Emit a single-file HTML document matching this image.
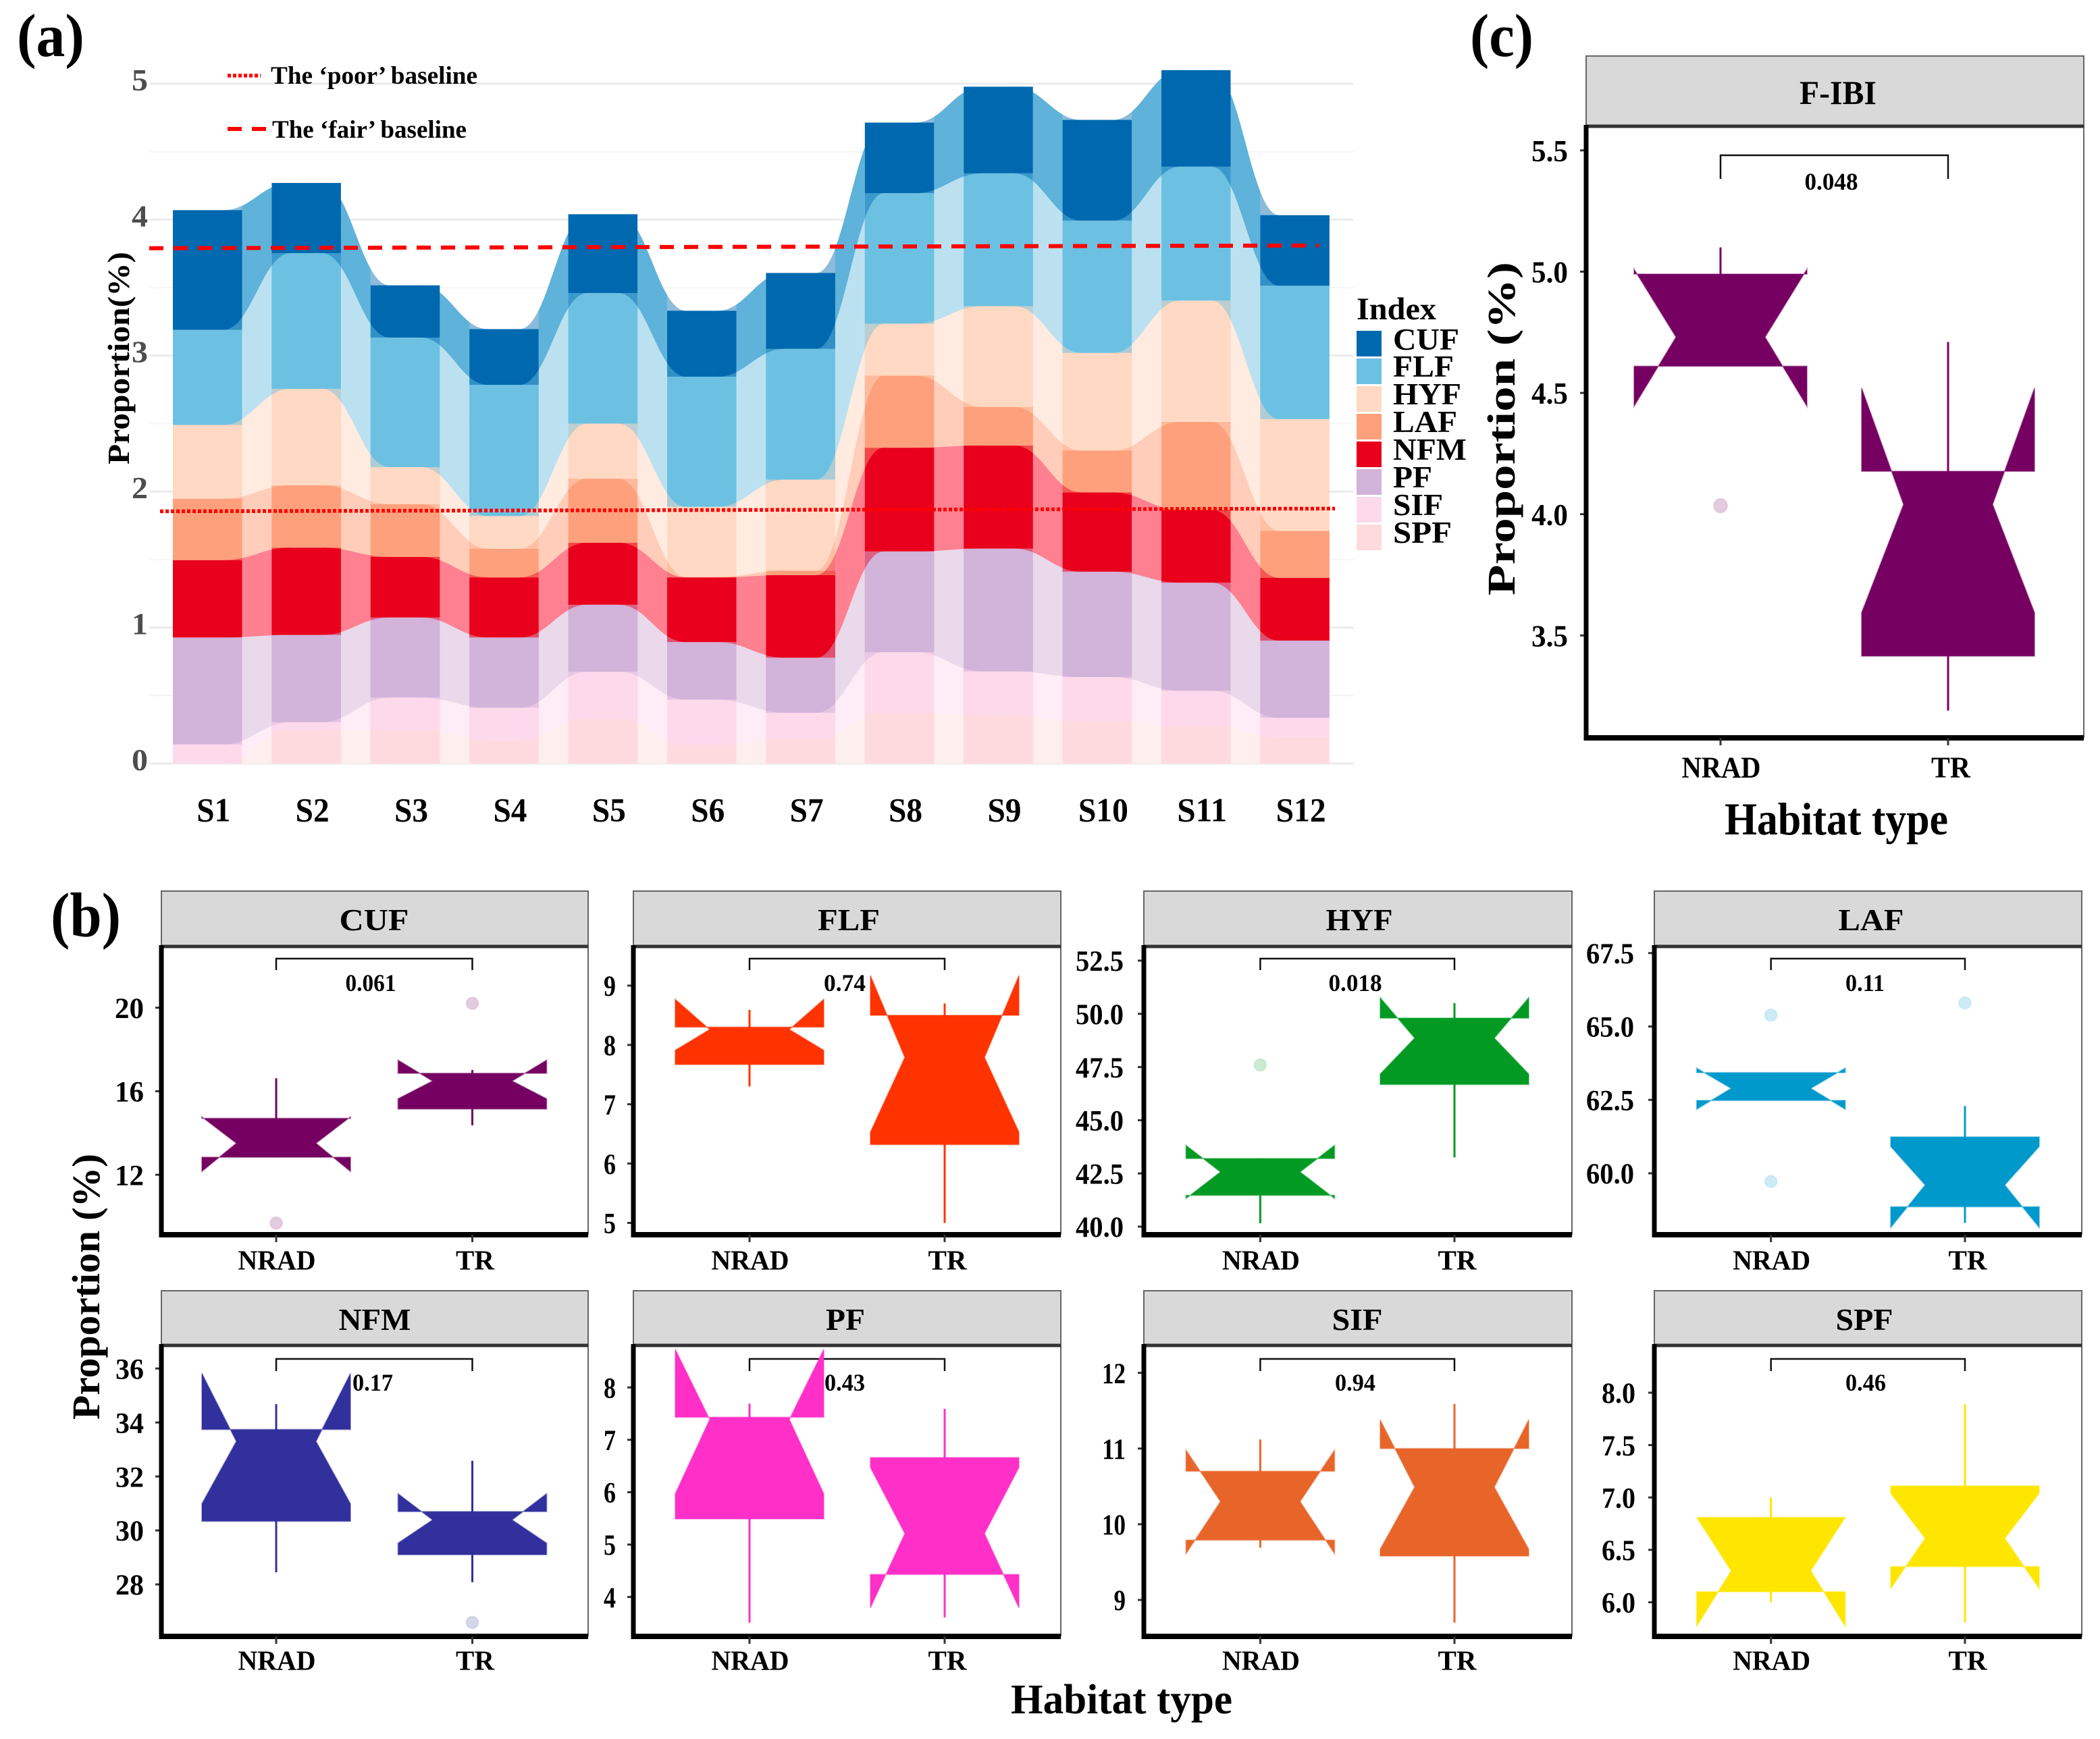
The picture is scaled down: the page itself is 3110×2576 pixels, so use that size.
<!DOCTYPE html>
<html lang="en">
<head>
<meta charset="utf-8">
<title>Fish index proportions by site and habitat type</title>
<style>
html,body{margin:0;padding:0;background:#fff;width:3110px;height:2576px;overflow:hidden}
svg{display:block}
text{font-family:"Liberation Serif",serif;font-weight:bold;fill:#000}
</style>
</head>
<body>
<svg id="figure" xmlns="http://www.w3.org/2000/svg" width="3110" height="2576" viewBox="0 0 3110 2576">
  <rect x="0" y="0" width="3110" height="2576" fill="#fff"/>

  <text x="25" y="83" font-size="90" textLength="100" lengthAdjust="spacingAndGlyphs">(a)</text>
  <text x="75" y="1387" font-size="93" textLength="104" lengthAdjust="spacingAndGlyphs">(b)</text>
  <text x="2177" y="83" font-size="90" textLength="94" lengthAdjust="spacingAndGlyphs">(c)</text>

  <g id="stack-grid"></g>
  <g id="stack-flows"></g>
  <g id="stack-bars"></g>
  <g id="stack-slivers"></g>
  <g id="stack-axes"></g>
  <g id="stack-baselines"></g>

  <text transform="translate(191,688) rotate(-90)" x="0" y="0" font-size="46" textLength="315" lengthAdjust="spacingAndGlyphs">Proportion(%)</text>

  <g>
    <line x1="337" y1="112" x2="386" y2="112" stroke="#f00" stroke-width="5.5" stroke-dasharray="5 3"/>
    <text x="401" y="124" font-size="37" textLength="306" lengthAdjust="spacingAndGlyphs">The ‘poor’ baseline</text>
    <line x1="337" y1="191" x2="396" y2="191" stroke="#f00" stroke-width="6" stroke-dasharray="21 15"/>
    <text x="403" y="204" font-size="37" textLength="288" lengthAdjust="spacingAndGlyphs">The ‘fair’ baseline</text>
  </g>

  <g>
    <text x="2009" y="473" font-size="47" textLength="118" lengthAdjust="spacingAndGlyphs">Index</text>
    <rect x="2009" y="490" width="37" height="38" fill="#0069b0"/>
    <text x="2063" y="518" font-size="46" textLength="98" lengthAdjust="spacingAndGlyphs">CUF</text>
    <rect x="2009" y="531" width="37" height="38" fill="#6cc1e2"/>
    <text x="2063" y="558" font-size="46" textLength="90" lengthAdjust="spacingAndGlyphs">FLF</text>
    <rect x="2009" y="572" width="37" height="38" fill="#ffd9c3"/>
    <text x="2063" y="599" font-size="46" textLength="101" lengthAdjust="spacingAndGlyphs">HYF</text>
    <rect x="2009" y="613" width="37" height="38" fill="#ffa07c"/>
    <text x="2063" y="640" font-size="46" textLength="95" lengthAdjust="spacingAndGlyphs">LAF</text>
    <rect x="2009" y="654" width="37" height="38" fill="#e9001d"/>
    <text x="2063" y="681" font-size="46" textLength="109" lengthAdjust="spacingAndGlyphs">NFM</text>
    <rect x="2009" y="695" width="37" height="38" fill="#d2b3da"/>
    <text x="2063" y="722" font-size="46" textLength="58" lengthAdjust="spacingAndGlyphs">PF</text>
    <rect x="2009" y="736" width="37" height="38" fill="#fdd9ec"/>
    <text x="2063" y="763" font-size="46" textLength="74" lengthAdjust="spacingAndGlyphs">SIF</text>
    <rect x="2009" y="777" width="37" height="38" fill="#fedadf"/>
    <text x="2063" y="804" font-size="46" textLength="87" lengthAdjust="spacingAndGlyphs">SPF</text>
  </g>

  <g id="panels"></g>

  <g text-anchor="middle">
    <text x="2722" y="154" font-size="50" textLength="114" lengthAdjust="spacingAndGlyphs">F-IBI</text>
    <text x="554" y="1378" font-size="46" textLength="103" lengthAdjust="spacingAndGlyphs">CUF</text>
    <text x="1257" y="1378" font-size="46" textLength="92" lengthAdjust="spacingAndGlyphs">FLF</text>
    <text x="2013" y="1378" font-size="46" textLength="99" lengthAdjust="spacingAndGlyphs">HYF</text>
    <text x="2771" y="1378" font-size="46" textLength="97" lengthAdjust="spacingAndGlyphs">LAF</text>
    <text x="555" y="1970" font-size="46" textLength="107" lengthAdjust="spacingAndGlyphs">NFM</text>
    <text x="1252" y="1970" font-size="46" textLength="58" lengthAdjust="spacingAndGlyphs">PF</text>
    <text x="2010" y="1970" font-size="46" textLength="75" lengthAdjust="spacingAndGlyphs">SIF</text>
    <text x="2761" y="1970" font-size="46" textLength="85" lengthAdjust="spacingAndGlyphs">SPF</text>
  </g>

  <text transform="translate(147,2103) rotate(-90)" x="0" y="0" font-size="58" textLength="394" lengthAdjust="spacingAndGlyphs">Proportion (%)</text>
  <text x="1497" y="2538" font-size="62" textLength="328" lengthAdjust="spacingAndGlyphs">Habitat type</text>
  <text transform="translate(2243,882) rotate(-90)" x="0" y="0" font-size="58" textLength="494" lengthAdjust="spacingAndGlyphs">Proportion (%)</text>
  <text x="2554" y="1236" font-size="68" textLength="331" lengthAdjust="spacingAndGlyphs">Habitat type</text>
</svg>

<script>
// ---- Panel (a) data: stacked layer heights per site, bottom layer first
const sites = ['S1','S2','S3','S4','S5','S6','S7','S8','S9','S10','S11','S12'];
const spfValues = [0,0.245,0.245,0.17,0.328,0.14,0.18,0.373,0.353,0.312,0.276,0.195];
const sifValues = [0.14,0.059,0.24,0.24,0.347,0.33,0.193,0.446,0.324,0.324,0.259,0.141];
const pfValues  = [0.787,0.642,0.589,0.517,0.493,0.423,0.405,0.741,0.904,0.775,0.795,0.568];
const nfmValues = [0.569,0.642,0.446,0.442,0.456,0.476,0.608,0.763,0.758,0.583,0.535,0.462];
const lafValues = [0.452,0.458,0.388,0.211,0.471,0.003,0.033,0.531,0.284,0.308,0.648,0.345];
const hyfValues = [0.542,0.71,0.272,0.24,0.405,0.516,0.669,0.381,0.741,0.718,0.892,0.822];
const flfValues = [0.70,0.998,0.953,0.965,0.96,0.957,0.962,0.96,0.977,0.973,0.985,0.981];
const cufValues = [0.88,0.516,0.384,0.41,0.58,0.485,0.558,0.519,0.637,0.741,0.71,0.519];
const stackTicks = ['0','1','2','3','4','5'];
const poorBaseline = [1.855,1.875];
const fairBaseline = [3.79,3.81];

// ---- Box data order: q1, notchLower, median, notchUpper, q3, whiskerLow, whiskerHigh
const boxCategories = ['NRAD','TR'];
const fibiTicks = ['3.5','4.0','4.5','5.0','5.5'];
const fibiNrad = [4.61,4.445,4.73,5.01,4.99,4.61,5.1];
const fibiTr = [3.415,3.594,4.04,4.52,4.177,3.19,4.71];
const fibiNradOutliers = [4.035];
const fibiTrOutliers = [];
const fibiP = '0.048';

const cufTicks = ['12','16','20'];
const cufNrad = [12.84,12.16,13.51,14.77,14.7,12.84,16.62];
const cufTr = [15.15,15.64,16.49,17.49,16.86,14.37,17.02];
const cufNradOutliers = [9.69];
const cufTrOutliers = [20.21];
const cufP = '0.061';

const flfTicks = ['5','6','7','8','9'];
const flfNrad = [7.67,7.91,8.26,8.77,8.3,7.3,8.59];
const flfTr = [6.32,6.53,7.79,9.17,8.5,5.0,8.7];
const flfNradOutliers = [];
const flfTrOutliers = [];
const flfP = '0.74';

const hyfTicks = ['40.0','42.5','45.0','47.5','50.0','52.5'];
const hyfNrad = [41.47,41.32,42.57,43.82,43.2,40.16,43.2];
const hyfTr = [46.68,47.17,48.86,50.76,49.8,43.25,50.5];
const hyfNradOutliers = [47.6];
const hyfTrOutliers = [];
const hyfP = '0.018';

const lafTicks = ['60.0','62.5','65.0','67.5'];
const lafNrad = [62.48,62.18,62.89,63.58,63.43,62.48,63.43];
const lafTr = [58.86,58.15,59.6,60.91,61.24,58.31,62.29];
const lafNradOutliers = [59.72,65.39];
const lafTrOutliers = [65.8];
const lafP = '0.11';

const nfmTicks = ['28','30','32','34','36'];
const nfmNrad = [30.34,30.99,33.3,35.82,33.74,28.45,34.68];
const nfmTr = [29.1,29.53,30.39,31.36,30.7,28.08,32.58];
const nfmNradOutliers = [];
const nfmTrOutliers = [26.59];
const nfmP = '0.17';

const pfTicks = ['4','5','6','7','8'];
const pfNrad = [5.49,5.97,7.39,8.73,7.43,3.51,7.69];
const pfTr = [4.43,3.79,5.21,6.47,6.66,3.61,7.59];
const pfNradOutliers = [];
const pfTrOutliers = [];
const pfP = '0.43';

const sifTicks = ['9','10','11','12'];
const sifNrad = [9.79,9.61,10.3,10.98,10.7,9.69,11.12];
const sifTr = [9.58,9.67,10.49,11.38,11.0,8.7,11.59];
const sifNradOutliers = [];
const sifTrOutliers = [];
const sifP = '0.94';

const spfTicks = ['6.0','6.5','7.0','7.5','8.0'];
const spfNrad = [6.1,5.77,6.3,6.81,6.81,6.0,7.0];
const spfTr = [6.34,6.13,6.61,7.04,7.11,5.81,7.89];
const spfNradOutliers = [];
const spfTrOutliers = [];
const spfP = '0.46';

const NS = 'http://www.w3.org/2000/svg';
function make(parent, tag, attrs) {
  const el = document.createElementNS(NS, tag);
  for (const k in attrs) el.setAttribute(k, attrs[k]);
  parent.appendChild(el);
  return el;
}
function makeText(parent, str, x, cy, size, width, anchor, fill) {
  const el = make(parent, 'text', {x: x, y: cy + size * 0.33, 'font-size': size, 'text-anchor': anchor, textLength: width, lengthAdjust: 'spacingAndGlyphs'});
  if (fill) el.style.fill = fill;
  el.textContent = str;
  return el;
}

// ---- Panel (a)
const layers = [
  {name:'spf', values:spfValues, bar:'#fedadf', flow:'#feeeee'},
  {name:'sif', values:sifValues, bar:'#fdd9ec', flow:'#feecf6'},
  {name:'pf',  values:pfValues,  bar:'#d2b3da', flow:'#e9d9eb'},
  {name:'nfm', values:nfmValues, bar:'#e9001d', flow:'#ff8091'},
  {name:'laf', values:lafValues, bar:'#ffa07c', flow:'#ffcdb9'},
  {name:'hyf', values:hyfValues, bar:'#ffd9c3', flow:'#ffebdf'},
  {name:'flf', values:flfValues, bar:'#6cc1e2', flow:'#bbe1f1'},
  {name:'cuf', values:cufValues, bar:'#0069b0', flow:'#5fb2d9'}
];
function stackY(v) { return 1131 - 201.4 * v; }
function stackLeft(i) { return 256 + 146.4 * i; }
const stackBarWidth = 102.5;
const flowOverlap = 28;
const flowControl = 0.42;

// cumulative tops
const cumulative = [];
layers.forEach(function (layer, li) {
  cumulative.push(layer.values.map(function (v, i) { return v + (li ? cumulative[li - 1][i] : 0); }));
});

const gridG = document.getElementById('stack-grid');
const axesG = document.getElementById('stack-axes');
stackTicks.forEach(function (t) {
  const v = parseFloat(t);
  const major = make(gridG, 'line', {x1: 221, x2: 2005, y1: stackY(v), y2: stackY(v), stroke: '#ebebeb', 'stroke-width': 3});
  
  
  if (v < 5) {
    const minor = make(gridG, 'line', {x1: 221, x2: 2005, y1: stackY(v + 0.5), y2: stackY(v + 0.5), stroke: '#f4f4f4', 'stroke-width': 2});
    
    
  }
  const label = makeText(axesG, t, 219, stackY(v) - 5, 45, 24, 'end', '#4d4d4d');
  
  
});
sites.forEach(function (s, i) {
  const w = s.length > 2 ? 74 : 50;
  const label = makeText(axesG, s, stackLeft(i) + stackBarWidth / 2 + 9, 1200, 50, w, 'middle');
  
  
});

function curve(i, topLi) {
  // forward curve along the cumulative top of layer topLi (or baseline if -1), from site i to i+1
  const x0 = stackLeft(i) + stackBarWidth - flowOverlap;
  const x1 = stackLeft(i + 1) + flowOverlap;
  const span = x1 - x0;
  const c1 = x0 + span * flowControl;
  const c2 = x1 - span * flowControl;
  const y0 = stackY(topLi < 0 ? 0 : cumulative[topLi][i]);
  const y1 = stackY(topLi < 0 ? 0 : cumulative[topLi][i + 1]);
  return {x0: x0, x1: x1, c1: c1, c2: c2, y0: y0, y1: y1};
}
const flowsG = document.getElementById('stack-flows');
const slivers = document.getElementById('stack-slivers');
const barsG = document.getElementById('stack-bars');

for (let i = 0; i < sites.length - 1; i++) {
  const gapClip = make(flowsG, 'clipPath', {id: 'gap-clip-' + i});
  make(gapClip, 'rect', {x: stackLeft(i) + stackBarWidth, y: 0, width: stackLeft(i + 1) - stackLeft(i) - stackBarWidth, height: 1200});
  const gapGroup = make(flowsG, 'g', {'clip-path': 'url(#gap-clip-' + i + ')'});
  
  
  // paint top layer first, each extending to the baseline, so no seams appear
  for (let li = layers.length - 1; li >= 0; li--) {
    const c = curve(i, li);
    const d = 'M' + c.x0 + ',' + c.y0 + ' C' + c.c1 + ',' + c.y0 + ' ' + c.c2 + ',' + c.y1 + ' ' + c.x1 + ',' + c.y1 +
      ' L' + c.x1 + ',' + stackY(0) + ' L' + c.x0 + ',' + stackY(0) + ' Z';
    const flow = make(gapGroup, 'path', {d: d, fill: layers[li].flow});
    
    
  }
}

layers.forEach(function (layer, li) {
  layer.values.forEach(function (v, i) {
    const top = stackY(cumulative[li][i]);
    const bottom = stackY(li ? cumulative[li - 1][i] : 0);
    const bar = make(barsG, 'rect', {x: stackLeft(i), y: top, width: stackBarWidth, height: Math.max(0, bottom - top), fill: layer.bar});
    
    
  });
});

const sliverClip = make(slivers, 'clipPath', {id: 'bars-clip'});
sites.forEach(function (s, i) {
  make(sliverClip, 'rect', {x: stackLeft(i), y: 0, width: stackBarWidth, height: 1131});
});
const sliverGroup = make(slivers, 'g', {'clip-path': 'url(#bars-clip)'});


for (let i = 0; i < sites.length - 1; i++) {
  layers.forEach(function (layer, li) {
    const t = curve(i, li);
    const b = curve(i, li - 1);
    const d = 'M' + t.x0 + ',' + t.y0 + ' C' + t.c1 + ',' + t.y0 + ' ' + t.c2 + ',' + t.y1 + ' ' + t.x1 + ',' + t.y1 +
      ' L' + b.x1 + ',' + b.y1 + ' C' + b.c2 + ',' + b.y1 + ' ' + b.c1 + ',' + b.y0 + ' ' + b.x0 + ',' + b.y0 + ' Z';
    const band = make(sliverGroup, 'path', {d: d, fill: layer.bar, 'fill-opacity': 0.45});
    
    
  });
}

const baseG = document.getElementById('stack-baselines');
const poorLine = make(baseG, 'line', {x1: 237, x2: 1977, y1: stackY(poorBaseline[0]), y2: stackY(poorBaseline[1]), stroke: '#f00', 'stroke-width': 5.5, 'stroke-dasharray': '5 3'});


const fairLine = make(baseG, 'line', {x1: 221, x2: 1953, y1: stackY(fairBaseline[0]), y2: stackY(fairBaseline[1]), stroke: '#f00', 'stroke-width': 6, 'stroke-dasharray': '21 15'});



// ---- Box panels
const panelsG = document.getElementById('panels');
function drawBox(g, p, x, box, outliers, catName) {
  const y = function (v) { return p.yPx0 + (v - p.yVal0) * (p.yPx1 - p.yPx0) / (p.yVal1 - p.yVal0); };
  const q1 = y(box[0]), nl = y(box[1]), med = y(box[2]), nu = y(box[3]), q3 = y(box[4]), wl = y(box[5]), wh = y(box[6]);
  const L = x - p.half, R = x + p.half, mL = L + p.notch, mR = R - p.notch;
  const whisker = make(g, 'line', {x1: x, x2: x, y1: wl, y2: wh, stroke: p.color, 'stroke-width': 3});
  
  
  const pts = [[L,q3],[L,nu],[mL,med],[L,nl],[L,q1],[R,q1],[R,nl],[mR,med],[R,nu],[R,q3]]
    .map(function (a) { return a[0] + ',' + a[1]; }).join(' ');
  const poly = make(g, 'polygon', {points: pts, fill: p.color, stroke: p.color, 'stroke-width': 2, 'stroke-opacity': 0.4});
  
  
  outliers.forEach(function (v) {
    const dot = make(g, 'ellipse', {cx: x, cy: y(v), rx: p.rx, ry: p.ry, fill: p.color, 'fill-opacity': 0.2, stroke: p.color, 'stroke-opacity': 0.1, 'stroke-width': 2});
    
    
  });
}

function drawPanel(p) {
  const g = make(panelsG, 'g', {});
  
  
  const y = function (v) { return p.yPx0 + (v - p.yVal0) * (p.yPx1 - p.yPx0) / (p.yVal1 - p.yVal0); };

  const strip = make(g, 'rect', {x: p.left, y: p.stripTop, width: p.right - p.left, height: p.top - p.stripTop, fill: '#d9d9d9', stroke: '#666', 'stroke-width': 2});
  
  
  const rightEdge = make(g, 'line', {x1: p.right, x2: p.right, y1: p.top, y2: p.bottom, stroke: '#666', 'stroke-width': 2});
  
  
  const topEdge = make(g, 'line', {x1: p.left, x2: p.right, y1: p.top, y2: p.top, stroke: '#333', 'stroke-width': 5});
  
  

  const longest = Math.max.apply(null, p.ticks.map(function (t) { return t.length; }));
  p.ticks.forEach(function (t) {
    const v = parseFloat(t);
    const tick = make(g, 'line', {x1: p.left - 9, x2: p.left, y1: y(v), y2: y(v), stroke: '#333', 'stroke-width': 3});
    
    
    const label = makeText(g, t, p.left - p.labelGap, y(v) + 1, p.tickSize, p.tickWidth * t.length / longest, 'end');
    
    
  });

  const bracket = make(g, 'polyline', {points: p.xA + ',' + p.bracketBottom + ' ' + p.xA + ',' + p.bracketTop + ' ' + p.xB + ',' + p.bracketTop + ' ' + p.xB + ',' + p.bracketBottom, fill: 'none', stroke: '#111', 'stroke-width': 2.5});
  
  

  drawBox(g, p, p.xA, p.boxA, p.outA, 'nrad');
  drawBox(g, p, p.xB, p.boxB, p.outB, 'tr');

  const pValue = makeText(g, p.pValue, p.pX, p.pY, p.pSize, p.pWidth, 'middle');
  
  

  const leftAxis = make(g, 'line', {x1: p.left, x2: p.left, y1: p.top - 2, y2: p.bottom + 4, stroke: '#000', 'stroke-width': 7});
  
  
  const bottomAxis = make(g, 'line', {x1: p.left - 3, x2: p.right, y1: p.bottom, y2: p.bottom, stroke: '#000', 'stroke-width': 8});
  
  

  boxCategories.forEach(function (cat, i) {
    const cx = i ? p.xB : p.xA;
    const tick = make(g, 'line', {x1: cx, x2: cx, y1: p.bottom, y2: p.bottom + 11, stroke: '#333', 'stroke-width': 3});
    
    
    const label = makeText(g, cat, cx + (i ? 4 : 1), p.catY, p.catSize, i ? p.catWidthB : p.catWidthA, 'middle');
    
    
  });
}

const smallPanel = {half: 110, notch: 51, rx: 9, ry: 9, labelGap: 26, tickSize: 43, catSize: 41, catWidthA: 115, catWidthB: 57, pSize: 36};
const row1 = {stripTop: 1320, top: 1402, bottom: 1829, bracketTop: 1420, bracketBottom: 1437, pY: 1456, catY: 1867};
const row2 = {stripTop: 1912, top: 1993, bottom: 2424, bracketTop: 2013, bracketBottom: 2031, pY: 2048, catY: 2460};

drawPanel({name:'fibi', left:2349, right:3086, stripTop:83, top:187, bottom:1093, color:'#760062',
  xA:2548, xB:2885, half:128, notch:62, rx:10, ry:10.5, labelGap:27, tickSize:46, tickWidth:54,
  yVal0:5, yPx0:402.4, yVal1:3.5, yPx1:941.3, ticks:fibiTicks, boxA:fibiNrad, boxB:fibiTr, outA:fibiNradOutliers, outB:fibiTrOutliers,
  bracketTop:230, bracketBottom:265, pValue:fibiP, pX:2712, pY:269, pSize:36, pWidth:79,
  catY:1137, catSize:44, catWidthA:117, catWidthB:58});

drawPanel(Object.assign({name:'cuf', left:239, right:871, color:'#760062', xA:409, xB:699.5,
  yVal0:20, yPx0:1492.7, yVal1:12, yPx1:1740.2, ticks:cufTicks, tickWidth:43, boxA:cufNrad, boxB:cufTr, outA:cufNradOutliers, outB:cufTrOutliers,
  pValue:cufP, pX:549, pWidth:75}, smallPanel, row1));
drawPanel(Object.assign({name:'flf', left:938, right:1571, color:'#ff3300', xA:1110, xB:1399,
  yVal0:9, yPx0:1460, yVal1:5, yPx1:1811.5, ticks:flfTicks, tickWidth:18, boxA:flfNrad, boxB:flfTr, outA:flfNradOutliers, outB:flfTrOutliers,
  pValue:flfP, pX:1251, pWidth:62}, smallPanel, row1));
drawPanel(Object.assign({name:'hyf', left:1694, right:2328, color:'#029a23', xA:1866.4, xB:2154,
  yVal0:52.5, yPx0:1423, yVal1:40, yPx1:1817, ticks:hyfTicks, tickWidth:71, boxA:hyfNrad, boxB:hyfTr, outA:hyfNradOutliers, outB:hyfTrOutliers,
  pValue:hyfP, pX:2007, pWidth:79}, smallPanel, row1, {labelGap:30}));
drawPanel(Object.assign({name:'laf', left:2450, right:3083, color:'#0099cc', xA:2622.7, xB:2910,
  yVal0:67.5, yPx0:1411.8, yVal1:60, yPx1:1738, ticks:lafTicks, tickWidth:71, boxA:lafNrad, boxB:lafTr, outA:lafNradOutliers, outB:lafTrOutliers,
  pValue:lafP, pX:2762, pWidth:58}, smallPanel, row1, {labelGap:30}));
drawPanel(Object.assign({name:'nfm', left:239, right:871, color:'#31309c', xA:409, xB:699.5,
  yVal0:36, yPx0:2027.2, yVal1:28, yPx1:2347, ticks:nfmTicks, tickWidth:42, boxA:nfmNrad, boxB:nfmTr, outA:nfmNradOutliers, outB:nfmTrOutliers,
  pValue:nfmP, pX:552, pWidth:60}, smallPanel, row2));
drawPanel(Object.assign({name:'pf', left:938, right:1571, color:'#ff2fc8', xA:1110, xB:1399,
  yVal0:8, yPx0:2055.2, yVal1:4, yPx1:2365.6, ticks:pfTicks, tickWidth:18, boxA:pfNrad, boxB:pfTr, outA:pfNradOutliers, outB:pfTrOutliers,
  pValue:pfP, pX:1251, pWidth:60}, smallPanel, row2));
drawPanel(Object.assign({name:'sif', left:1694, right:2328, color:'#e8652a', xA:1866.4, xB:2154,
  yVal0:12, yPx0:2033.6, yVal1:9, yPx1:2370, ticks:sifTicks, tickWidth:35, boxA:sifNrad, boxB:sifTr, outA:sifNradOutliers, outB:sifTrOutliers,
  pValue:sifP, pX:2007, pWidth:60}, smallPanel, row2, {labelGap:27}));
drawPanel(Object.assign({name:'spf', left:2450, right:3083, color:'#ffe600', xA:2622.7, xB:2910,
  yVal0:8, yPx0:2063, yVal1:6, yPx1:2373.4, ticks:spfTicks, tickWidth:50, boxA:spfNrad, boxB:spfTr, outA:spfNradOutliers, outB:spfTrOutliers,
  pValue:spfP, pX:2763, pWidth:60}, smallPanel, row2, {labelGap:28}));
</script>
</body>
</html>
